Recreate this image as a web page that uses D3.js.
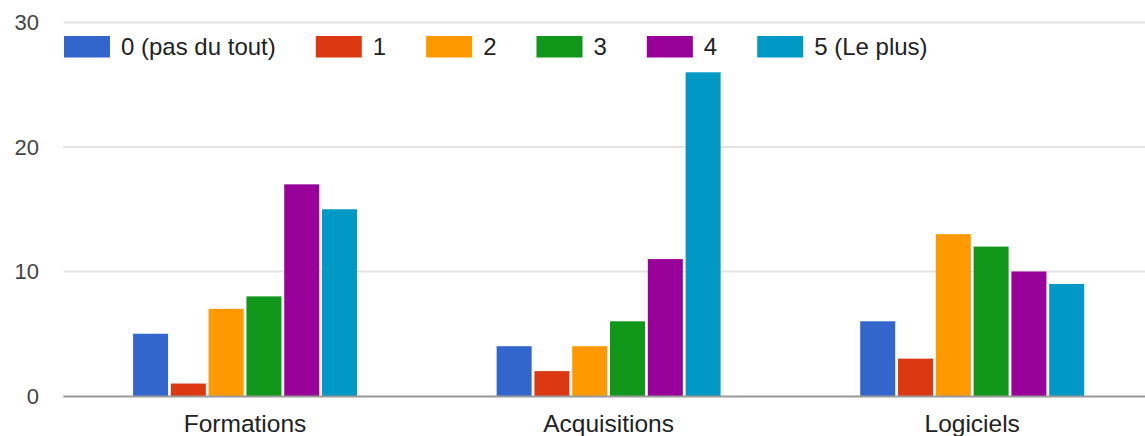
<!DOCTYPE html>
<html>
<head>
<meta charset="utf-8">
<script src="https://cdn.jsdelivr.net/npm/d3@7"></script>
<style>
  html, body { margin: 0; padding: 0; background: #fff; }
  svg { display: block; font-family: "Liberation Sans", Arial, sans-serif; }
</style>
</head>
<body>
<svg id="chart" width="1145" height="436"></svg>
<script>
const categories = ["Formations", "Acquisitions", "Logiciels"];
const seriesNames = ["0 (pas du tout)", "1", "2", "3", "4", "5 (Le plus)"];
const seriesColors = ["#3366cc", "#dc3912", "#ff9900", "#109618", "#990099", "#0099c6"];
const values0 = [5, 4, 6];
const values1 = [1, 2, 3];
const values2 = [7, 4, 13];
const values3 = [8, 6, 12];
const values4 = [17, 11, 10];
const values5 = [15, 26, 9];
const yTicks = [0, 10, 20, 30];

const seriesValues = [values0, values1, values2, values3, values4, values5];

const svg = d3.select("#chart");
const left = 63.25, right = 1154, y0px = 396, yTop = 22.5;

const x0 = d3.scaleBand().domain(categories).range([left, right])
  .paddingInner(0.384).paddingOuter(0.192);
const x1 = d3.scaleBand().domain(d3.range(seriesNames.length)).range([0, x0.bandwidth()])
  .paddingInner(0.074).paddingOuter(0);
const y = d3.scaleLinear().domain([0, 30]).range([y0px, yTop]);

// gridlines
svg.append("g").selectAll("line").data(yTicks.filter(t => t !== 0)).join("line")
  .attr("x1", left).attr("x2", 1145)
  .attr("y1", d => y(d)).attr("y2", d => y(d))
  .attr("stroke", "#e3e3e3").attr("stroke-width", 2);

// y labels
svg.append("g").selectAll("text").data(yTicks).join("text")
  .attr("x", 39).attr("y", d => y(d)).attr("dy", "0.36em")
  .attr("text-anchor", "end").attr("font-size", 22).attr("fill", "#444")
  .text(d => d);

// bars
const groups = svg.append("g").selectAll("g").data(categories).join("g")
  .attr("transform", d => `translate(${x0(d)},0)`);
groups.selectAll("rect")
  .data((c, ci) => seriesValues.map((vals, si) => ({ si, v: vals[ci] })))
  .join("rect")
  .attr("x", d => x1(d.si))
  .attr("width", x1.bandwidth())
  .attr("y", d => y(d.v))
  .attr("height", d => y(0) - y(d.v))
  .attr("fill", d => seriesColors[d.si]);

// baseline
svg.append("line").attr("x1", left).attr("x2", 1145)
  .attr("y1", y(0) + 0.5).attr("y2", y(0) + 0.5)
  .attr("stroke", "#9a9a9a").attr("stroke-width", 2);

// category labels
svg.append("g").selectAll("text").data(categories).join("text")
  .attr("x", d => x0(d) + x0.bandwidth() / 2).attr("y", 432)
  .attr("text-anchor", "middle").attr("font-size", 24.5).attr("fill", "#222")
  .text(d => d);

// legend
const legend = svg.append("g");
let lx = 64;
seriesNames.forEach((name, i) => {
  legend.append("rect").attr("x", lx).attr("y", 36).attr("width", 46).attr("height", 21.5)
    .attr("fill", seriesColors[i]);
  const t = legend.append("text").attr("x", lx + 57).attr("y", 55)
    .attr("font-size", 24).attr("fill", "#222").text(name);
  const w = t.node().getComputedTextLength();
  lx = lx + 57 + w + 40;
});
</script>
</body>
</html>
